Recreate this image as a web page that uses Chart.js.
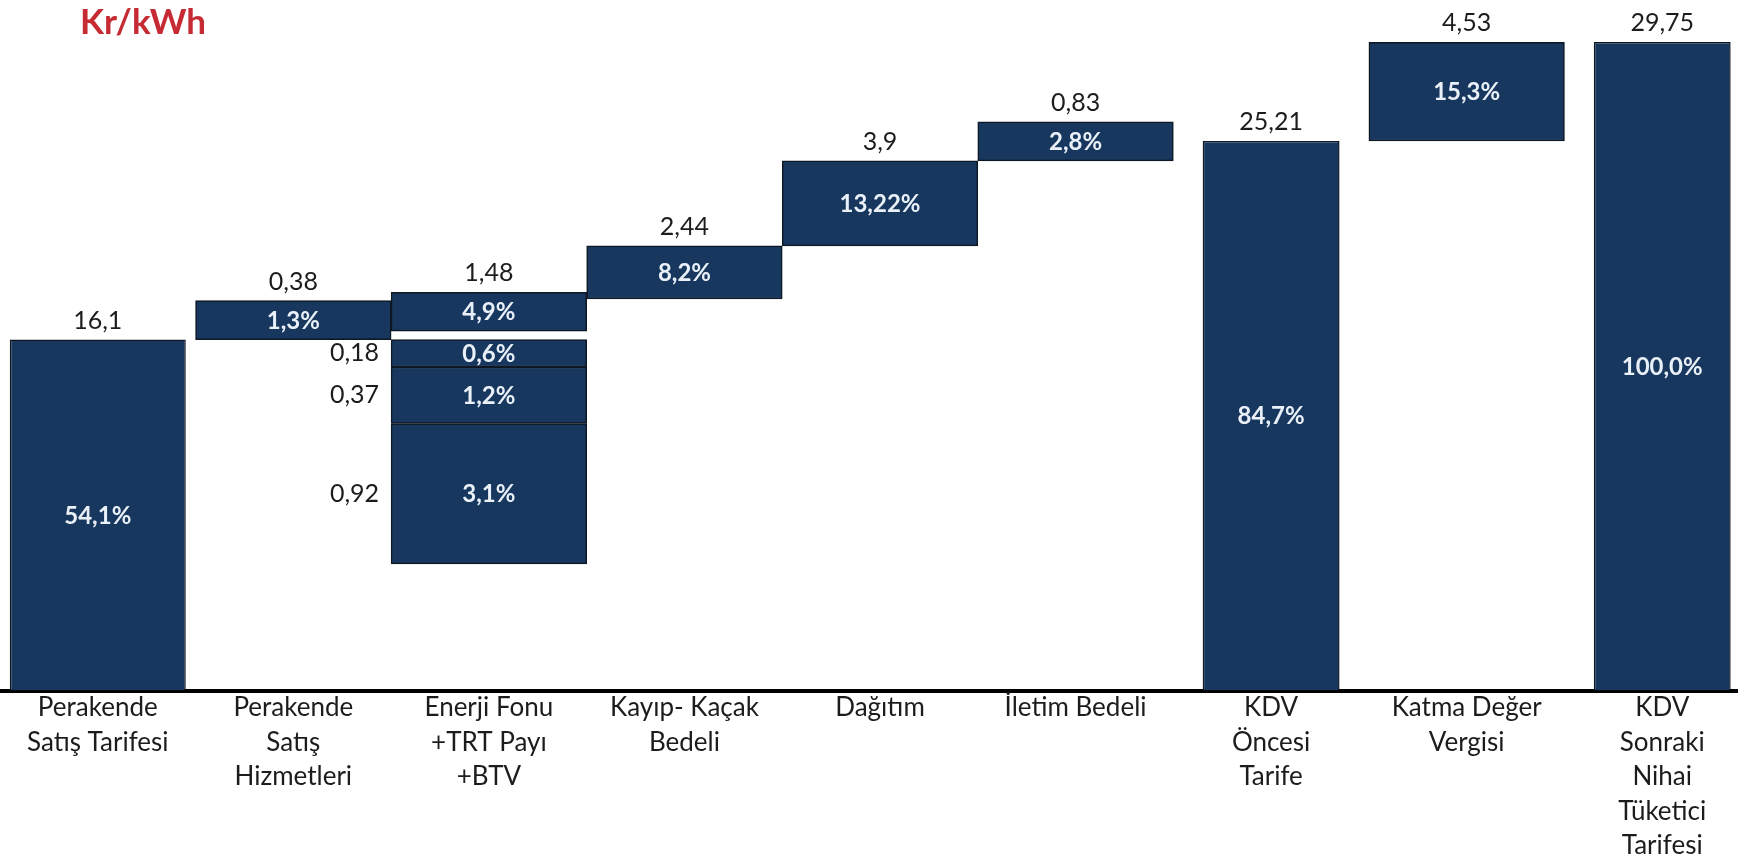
<!DOCTYPE html>
<html lang="tr">
<head>
<meta charset="utf-8">
<title>Elektrik tarifesi bileşenleri (Kr/kWh)</title>
<script src="https://cdn.jsdelivr.net/npm/chart.js@4.4.1/dist/chart.umd.min.js"></script>
<style>
  html, body { margin: 0; padding: 0; background: #ffffff; overflow: hidden; }
  #wrap { width: 1760px; height: 863px; }
</style>
</head>
<body>
<div id="wrap"><canvas id="chart" width="1760" height="863"></canvas></div>
<script>
// Tarife bileşenleri, Kr/kWh
const categories = [
  ['Perakende', 'Satış Tarifesi'],
  ['Perakende', 'Satış', 'Hizmetleri'],
  ['Enerji Fonu', '+TRT Payı', '+BTV'],
  ['Kayıp- Kaçak', 'Bedeli'],
  ['Dağıtım'],
  ['İletim Bedeli'],
  ['KDV', 'Öncesi', 'Tarife'],
  ['Katma Değer', 'Vergisi'],
  ['KDV', 'Sonraki', 'Nihai', 'Tüketici', 'Tarifesi']
];

// Toplam sütunlar (sıfırdan başlar)
const totalValues = [16.1, null, null, null, null, null, 25.21, null, 29.75];
// Kademeli eklenen kalemler
const stepValues = [null, 0.38, 1.48, 2.44, 3.9, 0.83, null, 4.53, null];
// Nihai tarife içindeki paylar
const shareLabels = ['54,1%', '1,3%', '4,9%', '8,2%', '13,22%', '2,8%', '84,7%', '15,3%', '100,0%'];

// Enerji Fonu, TRT Payı ve BTV kırılımı
const breakdownValues = [0.18, 0.37, 0.92];
const breakdownShares = ['0,6%', '1,2%', '3,1%'];
const breakdownColumn = 2;

const NAVY = '#17375e';
const EDGE = '#0f1722';
const FONT = 'Lato, "Open Sans", "DejaVu Sans", sans-serif';

const fmt = v => String(v).replace('.', ',');

// Kademelerin başlangıç ve bitişleri: her toplam sütun yürüyen toplamı sıfırlar
let running = 0;
const stepRanges = categories.map((_, i) => {
  if (totalValues[i] != null) { running = totalValues[i]; return null; }
  if (stepValues[i] != null) {
    const start = running;
    running = +(running + stepValues[i]).toFixed(4);
    return [start, running];
  }
  return null;
});

const yMax = Math.max(...totalValues.filter(v => v != null));
const breakdownAnchor = totalValues[0];   // kırılım ilk toplam seviyesinden aşağı sarkar
const breakdownZoom = 7;                  // kırılım ekseni büyütmesi

let offset = 0;
const breakdownSets = breakdownValues.map((v, k) => {
  const from = offset;
  offset = +(offset + v).toFixed(4);
  return {
    label: 'Kırılım ' + (k + 1),
    data: categories.map((_, i) => i === breakdownColumn ? [from, offset] : null),
    yAxisID: 'yb',
    backgroundColor: NAVY,
    borderColor: EDGE,
    borderWidth: 1.5,
    borderSkipped: false,
    barPercentage: 1.0,
    grouped: false,
    valueText: categories.map((_, i) => i === breakdownColumn ? fmt(v) : null),
    shareText: categories.map((_, i) => i === breakdownColumn ? breakdownShares[k] : null),
    valueSide: 'left'
  };
});

const datasets = [
  {
    label: 'Başlangıç',
    data: totalValues.map((v, i) => i === 0 ? v : null),
    backgroundColor: NAVY,
    borderColor: EDGE,
    borderWidth: { top: 1.5, left: 1.5, right: 1.5, bottom: 0 },
    borderSkipped: false,
    barPercentage: 0.9,
    grouped: false,
    valueText: totalValues.map((v, i) => i === 0 && v != null ? fmt(v) : null),
    shareText: shareLabels.map((s, i) => i === 0 ? s : null),
    valueSide: 'top'
  },
  {
    label: 'Toplam',
    data: totalValues.map((v, i) => i === 0 ? null : v),
    backgroundColor: NAVY,
    borderColor: EDGE,
    borderWidth: { top: 1.5, left: 1.5, right: 1.5, bottom: 0 },
    borderSkipped: false,
    barPercentage: 0.7,
    grouped: false,
    valueText: totalValues.map((v, i) => i > 0 && v != null ? fmt(v) : null),
    shareText: shareLabels.map((s, i) => i > 0 && totalValues[i] != null ? s : null),
    valueSide: 'top'
  },
  {
    label: 'Kalem',
    data: stepRanges,
    backgroundColor: NAVY,
    borderColor: EDGE,
    borderWidth: 1.5,
    borderSkipped: false,
    barPercentage: 1.0,
    minBarLength: 39,
    grouped: false,
    valueText: stepValues.map(v => v != null ? fmt(v) : null),
    shareText: shareLabels.map((s, i) => stepValues[i] != null ? s : null),
    valueSide: 'top'
  },
  ...breakdownSets
];

// Değer ve pay etiketleri
const barLabels = {
  id: 'barLabels',
  afterDatasetsDraw(chart) {
    const ctx = chart.ctx;
    ctx.save();
    chart.data.datasets.forEach((ds, di) => {
      const meta = chart.getDatasetMeta(di);
      meta.data.forEach((bar, i) => {
        if (ds.data[i] == null) return;
        const p = bar.getProps(['x', 'y', 'base', 'width'], true);
        const top = Math.min(p.y, p.base);
        const bottom = Math.max(p.y, p.base);
        const val = ds.valueText && ds.valueText[i];
        const share = ds.shareText && ds.shareText[i];
        if (val) {
          ctx.fillStyle = '#1c1c1c';
          ctx.font = '25px ' + FONT;
          if (ds.valueSide === 'left') {
            ctx.textAlign = 'right';
            ctx.textBaseline = 'middle';
            ctx.fillText(val, p.x - p.width / 2 - 12, (top + bottom) / 2);
          } else {
            ctx.textAlign = 'center';
            ctx.textBaseline = 'alphabetic';
            ctx.fillText(val, p.x, top - 11);
          }
        }
        if (share) {
          ctx.fillStyle = '#eaf0f8';
          ctx.font = 'bold 24px ' + FONT;
          ctx.textAlign = 'center';
          ctx.textBaseline = 'middle';
          ctx.fillText(share, p.x, (top + bottom) / 2 + 1);
        }
      });
    });
    ctx.restore();
  }
};

// Birim başlığı
const unitTitle = {
  id: 'unitTitle',
  afterDraw(chart) {
    const ctx = chart.ctx;
    ctx.save();
    ctx.fillStyle = '#c62b33';
    ctx.font = 'bold 35px ' + FONT;
    ctx.textAlign = 'left';
    ctx.textBaseline = 'alphabetic';
    ctx.fillText('Kr/kWh', 80, 34);
    ctx.restore();
  }
};

new Chart(document.getElementById('chart'), {
  type: 'bar',
  data: { labels: categories, datasets },
  options: {
    responsive: false,
    animation: false,
    devicePixelRatio: 1,
    layout: { padding: { top: 42, left: 0, right: 0, bottom: 0 } },
    datasets: { bar: { categoryPercentage: 1.0 } },
    plugins: {
      legend: { display: false },
      tooltip: { enabled: false },
      title: { display: false }
    },
    scales: {
      x: {
        type: 'category',
        offset: true,
        grid: { display: false, drawTicks: false },
        border: { display: true, color: '#000000', width: 4 },
        ticks: {
          color: '#1c1c1c',
          padding: 0,
          maxRotation: 0,
          autoSkip: false,
          font: { family: FONT, size: 26, lineHeight: '34.5px' }
        }
      },
      y: {
        type: 'linear',
        display: false,
        min: 0,
        max: yMax
      },
      yb: {
        type: 'linear',
        display: false,
        reverse: true,
        min: -(yMax - breakdownAnchor) / breakdownZoom,
        max: breakdownAnchor / breakdownZoom
      }
    }
  },
  plugins: [barLabels, unitTitle]
});
</script>
</body>
</html>
